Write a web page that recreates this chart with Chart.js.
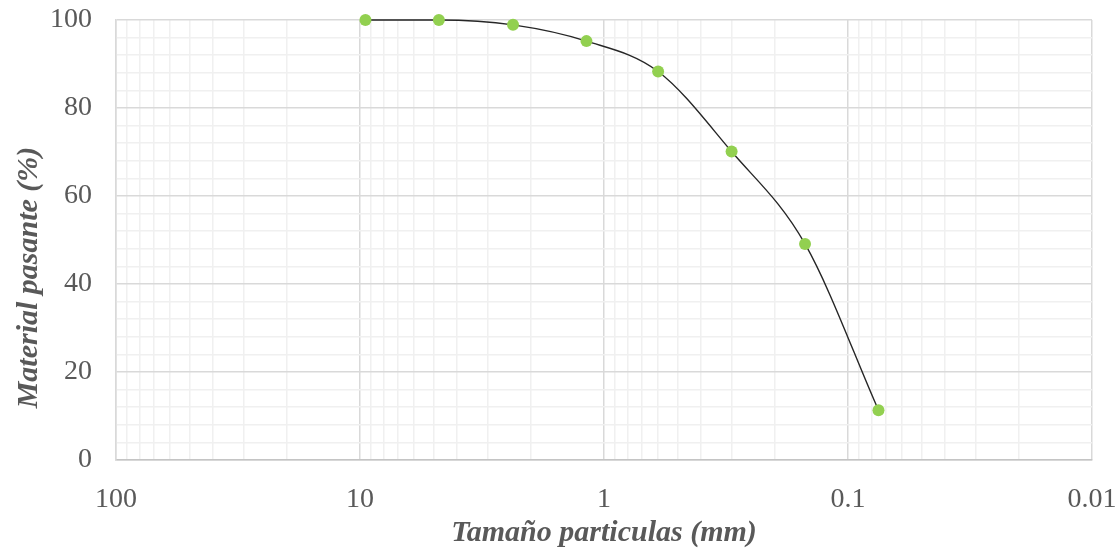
<!DOCTYPE html>
<html>
<head>
<meta charset="utf-8">
<script src="https://cdn.jsdelivr.net/npm/chart.js@4"></script>
<style>
  body { margin: 0; background: #fff; }
  #wrap { width: 1120px; height: 548px; }
</style>
</head>
<body>
<div id="wrap"><canvas id="grading_chart" width="1120" height="548"></canvas></div>
<script>
// sieve openings (mm) and percent passing
const sizes = [9.5, 4.75, 2.36, 1.18, 0.6, 0.3, 0.15, 0.075];
const passing = [100, 100, 98.9, 95.2, 88.3, 70.1, 49.1, 11.3];
const sizeTicks = [100, 10, 1, 0.1, 0.01];
const percentTicks = [0, 20, 40, 60, 80, 100];

const xTitle = 'Tamaño particulas (mm)';
const yTitle = 'Material pasante (%)';

const fontFamily = '"Liberation Serif", "Times New Roman", serif';
const textColor = '#595959';
const majorGrid = '#d9d9d9';
const minorGrid = '#f0f0f0';

// 1..9 per decade for the log grid
const logGrid = [];
for (let k = -2; k <= 1; k++) {
    for (let m = 1; m <= 9; m++) {
        logGrid.push(parseFloat((m * Math.pow(10, k)).toPrecision(3)));
    }
}
logGrid.push(100);

function isDecade(v){
    return sizeTicks.some(t => Math.abs(t - v) < 1e-9);
}

const points = sizes.map((s, i) => ({x: s, y: passing[i]}));

const ctx = document.getElementById('grading_chart').getContext('2d');
const grading_chart = new Chart(ctx, {
    type: 'line',
    data: {
        datasets: [{
            data: points,
            borderColor: '#262626',
            borderWidth: 1.4,
            cubicInterpolationMode: 'monotone',
            pointRadius: 6,
            pointBorderWidth: 0,
            pointBackgroundColor: '#92d050',
            pointHoverRadius: 6,
            clip: false
        }]
    },
    options: {
        responsive: false,
        animation: false,
        events: [],
        layout: {
            padding: {top: 20, right: 28, left: 0, bottom: 0}
        },
        plugins: {
            legend: {display: false},
            tooltip: {enabled: false}
        },
        scales: {
            x: {
                type: 'logarithmic',
                reverse: true,
                min: 0.01,
                max: 100,
                afterBuildTicks: scale => {
                    scale.ticks = logGrid.map(v => ({value: v, major: isDecade(v)}));
                },
                afterFit: scale => { scale.height = 88; },
                ticks: {
                    autoSkip: false,
                    maxRotation: 0,
                    padding: 23,
                    color: textColor,
                    font: {family: fontFamily, size: 28},
                    callback: v => isDecade(v) ? String(v) : ''
                },
                grid: {
                    drawTicks: false,
                    lineWidth: 1.5,
                    color: c => (c.tick && isDecade(c.tick.value)) ? majorGrid : minorGrid
                },
                border: {color: '#c4c4c4', width: 1.5},
                title: {
                    display: true,
                    text: xTitle,
                    color: textColor,
                    font: {family: fontFamily, size: 30, style: 'italic', weight: 'bold', lineHeight: 1.0},
                    padding: {top: 0, bottom: 0}
                }
            },
            y: {
                min: 0,
                max: 100,
                afterFit: scale => {
                    scale.width = 116;
                    // tick padding would otherwise push the plot down
                    scale.paddingTop = 0;
                    scale.paddingBottom = 0;
                },
                ticks: {
                    stepSize: 4,
                    autoSkip: false,
                    padding: 24,
                    color: textColor,
                    font: {family: fontFamily, size: 28},
                    callback: v => percentTicks.includes(v) ? String(v) : ''
                },
                grid: {
                    drawTicks: false,
                    lineWidth: 1.5,
                    color: c => (c.tick && c.tick.value % 20 === 0) ? majorGrid : minorGrid
                },
                border: {color: majorGrid, width: 1.5},
                title: {
                    display: true,
                    // trailing spaces push the visible text down, as in the original
                    text: yTitle + '\u00a0'.repeat(10),
                    color: textColor,
                    font: {family: fontFamily, size: 30, style: 'italic', weight: 'bold', lineHeight: 1.0},
                    padding: {top: 14, bottom: 0}
                }
            }
        }
    }
});
</script>
</body>
</html>
